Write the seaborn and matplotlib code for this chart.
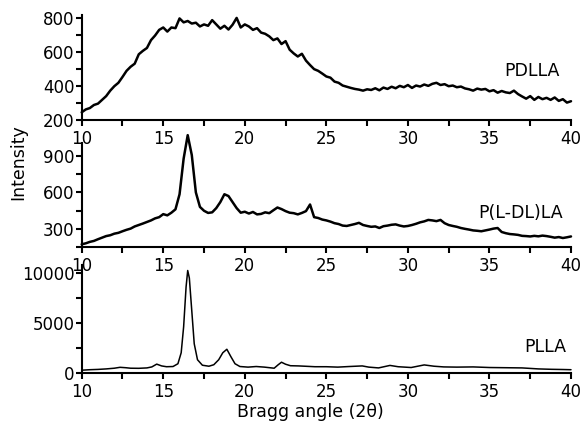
import matplotlib
matplotlib.use("Agg")
import matplotlib.pyplot as plt
from matplotlib.ticker import MultipleLocator
import numpy as np
import seaborn as sns

# 2-theta grid for the two noisy patterns (0.25 deg steps, 10..40)
two_theta = np.arange(10.0, 40.001, 0.25)

pdlla = [245, 262, 270, 288, 296, 318, 340, 372, 398, 418, 452, 488, 512, 530, 585, 605,
         622, 668, 695, 728, 742, 718, 742, 738, 795, 772, 780, 765, 770, 748, 760, 752,
         785, 760, 735, 752, 730, 758, 798, 742, 760, 748, 728, 738, 712, 705, 690, 668,
         678, 645, 662, 612, 590, 572, 588, 548, 522, 498, 488, 472, 455, 448, 425, 418,
         402, 395, 388, 382, 378, 372, 380, 376, 386, 374, 390, 382, 395, 386, 400, 392,
         405, 388, 402, 396, 408, 400, 412, 418, 405, 410, 398, 402, 392, 396, 385, 380,
         372, 384, 378, 382, 368, 375, 360, 370, 362, 358, 372, 352, 338, 325, 340, 318,
         335, 322, 330, 318, 332, 312, 322, 302, 310]

pldlla = [170, 178, 190, 198, 212, 225, 238, 245, 258, 265, 278, 290, 300, 318, 330, 342,
          355, 368, 385, 395, 420, 410, 432, 460, 585, 880, 1075, 910, 600, 480, 448, 430,
          435, 470, 520, 585, 570, 520, 470, 432, 440, 425, 438, 418, 422, 435, 428, 452,
          475, 462, 445, 432, 428, 418, 430, 445, 500, 395, 388, 375, 368, 358, 345, 338,
          325, 322, 330, 338, 348, 330, 322, 315, 318, 305, 320, 325, 332, 335, 325, 318,
          322, 330, 340, 352, 360, 372, 368, 362, 372, 345, 330, 322, 315, 305, 298, 292,
          285, 282, 278, 285, 292, 300, 305, 272, 262, 255, 252, 248, 240, 238, 235, 240,
          236, 242, 238, 232, 225, 230, 222, 228, 235]

# PLLA pattern (read at irregular angles, denser around the peaks)
plla_theta = [10, 10.5, 11, 11.5, 12, 12.35, 12.7, 13, 13.5, 14, 14.3, 14.6, 14.9, 15.2,
              15.6, 15.9, 16.1, 16.25, 16.4, 16.5, 16.6, 16.75, 16.9, 17.1, 17.4, 17.8,
              18.1, 18.4, 18.65, 18.9, 19.15, 19.4, 19.7, 20.2, 20.7, 21.2, 21.8, 22.05,
              22.25, 22.5, 22.8, 23.3, 23.8, 24.3, 25, 25.7, 26.4, 27.2, 27.6, 28.2, 28.9,
              29.4, 30.2, 31.0, 31.6, 32.2, 33, 34, 35, 36, 37, 38, 38.8, 39.5, 40]
plla = [250, 300, 330, 380, 450, 540, 500, 450, 440, 480, 580, 860, 680, 600,
        620, 900, 2000, 4600, 8600, 10250, 9500, 6200, 2900, 1300, 750, 650,
        800, 1300, 2000, 2350, 1600, 900, 620, 560, 620, 560, 450, 800,
        1050, 850, 700, 680, 640, 600, 600, 560, 620, 680, 560, 480, 730,
        600, 520, 780, 650, 580, 560, 580, 520, 500, 480, 380, 340, 320, 300]

sns.set_style("ticks")
plt.rcParams["font.family"] = ["DejaVu Sans"]
plt.rcParams["text.color"] = "black"

fig = plt.figure(figsize=(5.81, 4.28), dpi=100)
left, width = 0.1406, 0.8422
ax1 = fig.add_axes([left, 0.7196, width, 0.2453])
ax2 = fig.add_axes([left, 0.4236, width, 0.2423])
ax3 = fig.add_axes([left, 0.1292, width, 0.2516])

sns.lineplot(x=two_theta, y=pdlla, ax=ax1, color="black", lw=1.8, estimator=None)
sns.lineplot(x=two_theta, y=pldlla, ax=ax2, color="black", lw=1.8, estimator=None)
sns.lineplot(x=plla_theta, y=plla, ax=ax3, color="black", lw=1.1, estimator=None)

ax1.set_ylim(200, 815)
ax1.yaxis.set_major_locator(MultipleLocator(200))
ax1.yaxis.set_minor_locator(MultipleLocator(100))
ax2.set_ylim(150, 1010)
ax2.set_yticks([300, 600, 900])
ax2.yaxis.set_minor_locator(MultipleLocator(150))
ax3.set_ylim(0, 10800)
ax3.set_yticks([0, 5000, 10000])
ax3.yaxis.set_minor_locator(MultipleLocator(2500))

for ax in (ax1, ax2, ax3):
    ax.set_xlim(10, 40)
    ax.xaxis.set_major_locator(MultipleLocator(5))
    ax.xaxis.set_minor_locator(MultipleLocator(2.5))
    for line in ax.get_lines():
        line.set_clip_on(False)
    sns.despine(ax=ax)
    for s in ("left", "bottom"):
        ax.spines[s].set_linewidth(1.5)
        ax.spines[s].set_color("black")
    ax.tick_params(axis="both", which="both", direction="out", length=4.5, width=1.5,
                   labelsize=12, colors="black")
    ax.tick_params(axis="y", pad=0.5)
    ax.tick_params(axis="x", pad=3)
    ax.set_xlabel("")
    ax.set_ylabel("")
    ax.patch.set_alpha(0)

ax1.text(39.3, 485, "PDLLA", ha="right", va="center", fontsize=12.5)
ax2.text(39.5, 430, "P(L-DL)LA", ha="right", va="center", fontsize=12.5)
ax3.text(39.7, 2530, "PLLA", ha="right", va="center", fontsize=12.5)

fig.text(0.031, 0.621, "Intensity", rotation=90, ha="center", va="center", fontsize=12.5)
fig.text(0.534, 0.037, "Bragg angle (2θ)", ha="center", va="center", fontsize=12.5)

fig.savefig("out.png", dpi=100)
